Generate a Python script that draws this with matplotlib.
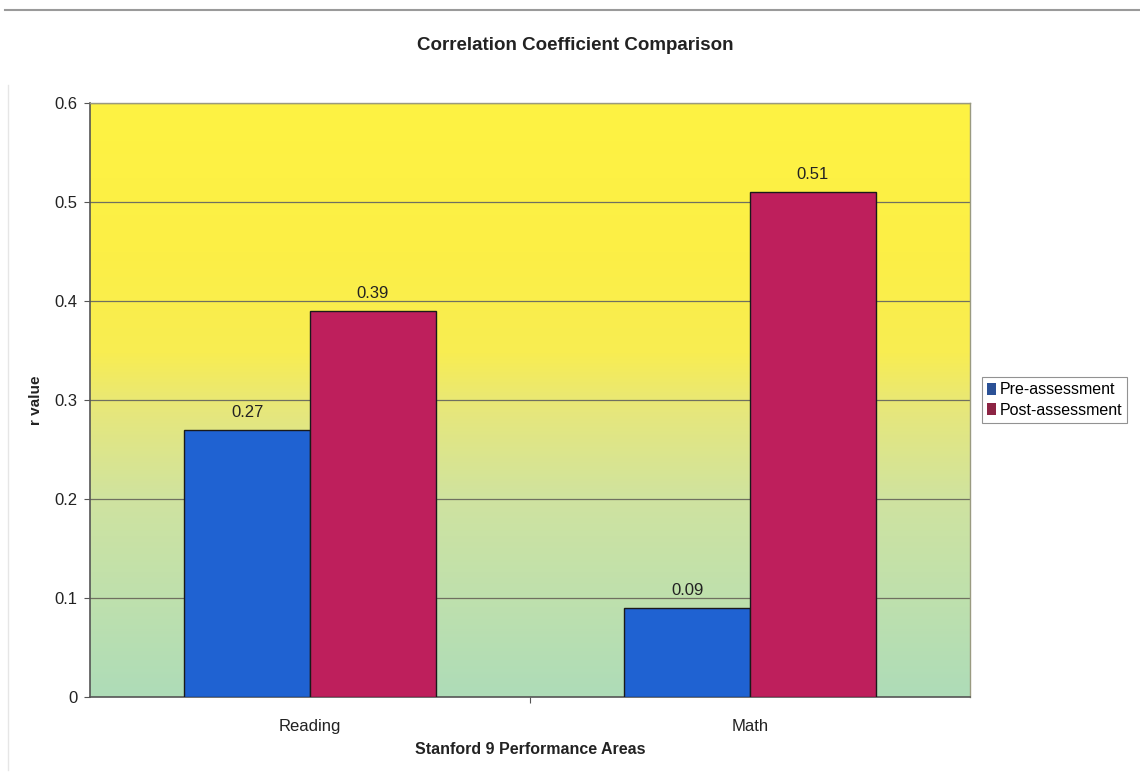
import numpy as np
import matplotlib.pyplot as plt
from matplotlib.colors import LinearSegmentedColormap
from matplotlib.patches import Patch
from matplotlib.lines import Line2D

plt.rcParams['font.family'] = ['Liberation Sans', 'DejaVu Sans']

categories = ["Reading", "Math"]
series_names = ["Pre-assessment", "Post-assessment"]
pre_values = [0.27, 0.09]
post_values = [0.39, 0.51]
y_ticks = [0, 0.1, 0.2, 0.3, 0.4, 0.5, 0.6]
y_tick_labels = ["0", "0.1", "0.2", "0.3", "0.4", "0.5", "0.6"]

bar_colors = ["#1f62d2", "#be1f5c"]
legend_colors = ["#2b5196", "#8c2444"]

fig = plt.figure(figsize=(11.4, 7.75), dpi=100)
fig.patch.set_facecolor("white")

# plot area: x 90..970, y 103..697 (pixels)
W, H = 1140, 775
ax = fig.add_axes([90 / W, 1 - 697 / H, 880 / W, 594 / H])

# background gradient (yellow at top fading to pale green at the bottom)
grad_cmap = LinearSegmentedColormap.from_list(
    "bg",
    [(0.00, "#aedcb8"),
     (0.15, "#bde0ae"),
     (0.33, "#cfe3a0"),
     (0.48, "#e6e77c"),
     (0.58, "#f8ed52"),
     (0.75, "#fcef46"),
     (1.00, "#fef343")])
grad = np.linspace(0, 1, 256).reshape(-1, 1)
ax.imshow(grad, cmap=grad_cmap, aspect="auto", origin="lower",
          extent=[-0.5, 1.5, 0, 0.6], zorder=0)

x = np.arange(len(categories))
width = 0.286
bars_pre = ax.bar(x - width / 2, pre_values, width, color=bar_colors[0],
                  edgecolor="#1a1a1a", linewidth=1.0, zorder=3)
bars_post = ax.bar(x + width / 2, post_values, width, color=bar_colors[1],
                   edgecolor="#1a1a1a", linewidth=1.0, zorder=3)

for bars, vals in ((bars_pre, pre_values), (bars_post, post_values)):
    for b, v in zip(bars, vals):
        ax.annotate(f"{v:.2f}", (b.get_x() + b.get_width() / 2, v),
                    xytext=(0, 7), textcoords="offset points",
                    ha="center", va="bottom", fontsize=12, color="#222222",
                    zorder=4)

ax.set_xlim(-0.5, 1.5)
ax.set_ylim(0, 0.6)
ax.set_yticks(y_ticks)
ax.set_yticklabels(y_tick_labels)
ax.set_xticks([0.5])
ax.set_xticklabels([""])
ax.tick_params(axis="x", length=4, color="#555555")
ax.tick_params(axis="y", length=4, color="#555555", labelsize=12,
               labelcolor="#222222", pad=5)
for xi, name in zip(x, categories):
    ax.text(xi, -0.03, name, ha="center", va="center", fontsize=12,
            color="#222222", clip_on=False)

for yv in y_ticks[1:]:
    ax.axhline(yv, color="#6f7060", linewidth=0.9, zorder=1)

for side in ("top", "right"):
    ax.spines[side].set_color("#9a9a80")
    ax.spines[side].set_linewidth(1.0)
ax.spines["left"].set_color("#555555")
ax.spines["bottom"].set_color("#555555")
ax.spines["left"].set_linewidth(1.2)
ax.spines["bottom"].set_linewidth(1.2)

ax.set_ylabel("r value", fontsize=11, fontweight="bold", color="#222222",
              labelpad=8)
fig.text(530 / W, 1 - 750 / H, "Stanford 9 Performance Areas", ha="center",
         va="center", fontsize=11.5, fontweight="bold", color="#222222")
fig.text(575 / W, 1 - 45 / H, "Correlation Coefficient Comparison",
         ha="center", va="center", fontsize=13.5, fontweight="bold",
         color="#222222")

handles = [Patch(facecolor=c, edgecolor="none") for c in legend_colors]
leg = fig.legend(handles, series_names, loc="center left",
                 bbox_to_anchor=(982 / W, 1 - 400 / H), fontsize=11.5,
                 frameon=True, fancybox=False, handlelength=0.55,
                 handleheight=0.8, handletextpad=0.25, borderpad=0.3,
                 labelspacing=0.35, borderaxespad=0)
leg.get_frame().set_edgecolor("#777777")
leg.get_frame().set_linewidth(0.8)

# page rule along the top and faint left edge
fig.add_artist(Line2D([5 / W, 1], [1 - 10 / H, 1 - 10 / H],
                      color="#9a9a9a", linewidth=1.5))
fig.add_artist(Line2D([8 / W, 8 / W], [1 - 85 / H, 1 - 770 / H],
                      color="#e6e6e6", linewidth=1.0))

fig.savefig("out.png", dpi=100, facecolor="white")
